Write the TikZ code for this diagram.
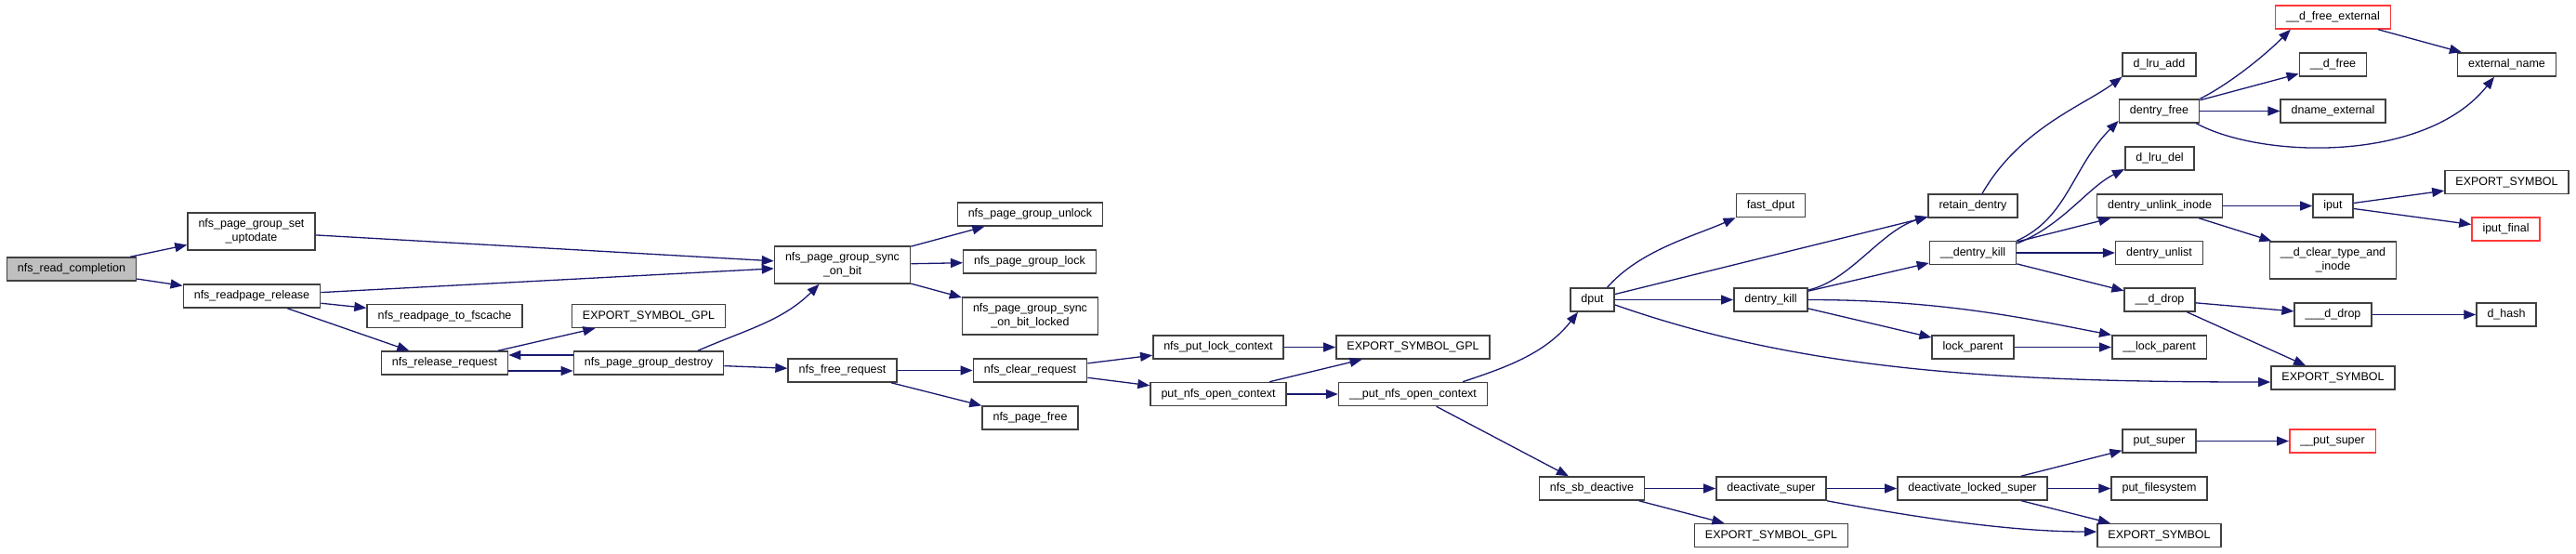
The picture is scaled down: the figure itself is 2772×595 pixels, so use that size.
\documentclass[tikz,border=0pt]{standalone}
\usepackage{fontspec}
\setmainfont{Liberation Sans}
\usepackage{tikz}
\usetikzlibrary{arrows.meta}
\definecolor{edgeblue}{RGB}{25,25,112}
\definecolor{rootgray}{RGB}{191,191,191}
\definecolor{boxline}{RGB}{64,64,64}
\definecolor{extred}{RGB}{255,56,56}

\begin{document}
\begin{tikzpicture}[
    x=1pt, y=-1pt,
    fn/.style={draw=boxline, line width=1.5pt, fill=white, inner xsep=11.5pt, inner ysep=2pt,
        minimum height=25pt, align=center, font=\fontsize{12.5}{15}\selectfont},
    fntwo/.style={fn, minimum height=40pt},
    root/.style={fill=rootgray},
    ext/.style={draw=extred},
    call/.style={edgeblue, line width=1.3pt},
    >={Triangle[length=13pt,width=10pt]}
]
\useasboundingbox (0,0) rectangle (2772,595);

% nfs side
\node[fn, root] (rdcompl) at (77,289.5) {nfs\_read\_completion};
\node[fntwo] (setupd) at (270.5,249) {nfs\_page\_group\_set\\\_uptodate};
\node[fn] (rprel) at (271,318.5) {nfs\_readpage\_release};
\node[fn] (tofsc) at (478.5,340) {nfs\_readpage\_to\_fscache};
\node[fn] (relreq) at (478.5,390.5) {nfs\_release\_request};
\node[fn] (expgpla) at (698,340) {EXPORT\_SYMBOL\_GPL};
\node[fn] (pgdestroy) at (698,390.5) {nfs\_page\_group\_destroy};
\node[fntwo] (syncbit) at (906.5,285) {nfs\_page\_group\_sync\\\_on\_bit};
\node[fn] (freereq) at (906.5,398.5) {nfs\_free\_request};
\node[fn] (pgunlock) at (1108.5,230.5) {nfs\_page\_group\_unlock};
\node[fn] (pglock) at (1108,281.5) {nfs\_page\_group\_lock};
\node[fntwo] (syncbitl) at (1108.5,340) {nfs\_page\_group\_sync\\\_on\_bit\_locked};
\node[fn] (clearreq) at (1108.5,398.5) {nfs\_clear\_request};
\node[fn] (pgfree) at (1108.5,449.5) {nfs\_page\_free};
\node[fn] (putlock) at (1311,373.5) {nfs\_put\_lock\_context};
\node[fn] (putctx) at (1311,424) {put\_nfs\_open\_context};
\node[fn] (expgplb) at (1520.5,373.5) {EXPORT\_SYMBOL\_GPL};
\node[fn] (uputctx) at (1520.5,424) {\_\_put\_nfs\_open\_context};

% dcache side
\node[fn] (dput) at (1713.5,322.5) {dput};
\node[fn] (fastdput) at (1905.5,221) {fast\_dput};
\node[fn] (dkill) at (1905.5,322.5) {dentry\_kill};
\node[fn] (retain) at (2123,221.5) {retain\_dentry};
\node[fn] (udkill) at (2123,272) {\_\_dentry\_kill};
\node[fn] (lockpar) at (2123,373.5) {lock\_parent};
\node[fn] (lrudd) at (2323.5,69.5) {d\_lru\_add};
\node[fn] (dfree) at (2323.5,119.5) {dentry\_free};
\node[fn] (lrudel) at (2324,170.5) {d\_lru\_del};
\node[fn] (unlink) at (2324,221.5) {dentry\_unlink\_inode};
\node[fn] (unlist) at (2323.5,272) {dentry\_unlist};
\node[fn] (ddrop) at (2324,322.5) {\_\_d\_drop};
\node[fn] (ulockpar) at (2323.5,373.5) {\_\_lock\_parent};
\node[fn, ext] (dfreeext) at (2510.5,18.5) {\_\_d\_free\_external};
\node[fn] (udfree) at (2510.5,69.5) {\_\_d\_free};
\node[fn] (dnameext) at (2510.5,119.5) {dname\_external};
\node[fn] (iput) at (2510.5,221.5) {iput};
\node[fntwo] (dclear) at (2510.5,280) {\_\_d\_clear\_type\_and\\\_inode};
\node[fn] (uddrop) at (2510.5,338.5) {\_\_\_d\_drop};
\node[fn] (expsyma) at (2510.5,406.5) {EXPORT\_SYMBOL};
\node[fn] (extname) at (2697.5,69.5) {external\_name};
\node[fn] (expsymc) at (2697.5,196) {EXPORT\_SYMBOL};
\node[fn, ext] (iputfinal) at (2696.5,246.5) {iput\_final};
\node[fn] (dhash) at (2697,338.5) {d\_hash};

% super block side
\node[fn] (sbdeact) at (1713,525.5) {nfs\_sb\_deactive};
\node[fn] (deactsup) at (1906,525.5) {deactivate\_super};
\node[fn] (expgplc) at (1906,576) {EXPORT\_SYMBOL\_GPL};
\node[fn] (deactlocked) at (2122.5,525.5) {deactivate\_locked\_super};
\node[fn] (putsuper) at (2323.5,474.5) {put\_super};
\node[fn] (putfs) at (2323.5,525.5) {put\_filesystem};
\node[fn] (expsymb) at (2323.5,576) {EXPORT\_SYMBOL};
\node[fn, ext] (uputsuper) at (2510,474.5) {\_\_put\_super};

% calls
\draw[->, call] (rdcompl) -- (setupd);
\draw[->, call] (rdcompl) -- (rprel);
\draw[->, call] (setupd) -- (syncbit);
\draw[->, call] (rprel) -- (syncbit);
\draw[->, call] (rprel) -- (tofsc);
\draw[->, call] (rprel) -- (relreq);
\draw[->, call] (relreq) -- (expgpla);
\draw[->, call] ([yshift=-8.5]relreq.east) -- ([yshift=-8.5]pgdestroy.west);
\draw[->, call] ([yshift=8.5]pgdestroy.west) -- ([yshift=8.5]relreq.east);
\draw[->, call] ([xshift=53]pgdestroy.north) .. controls +(50,-22) and +(-40,40) .. ([xshift=-25]syncbit.south);
\draw[->, call] (pgdestroy) -- (freereq);
\draw[->, call] (syncbit) -- (pgunlock);
\draw[->, call] (syncbit) -- (pglock);
\draw[->, call] (syncbit) -- (syncbitl);
\draw[->, call] (freereq) -- (clearreq);
\draw[->, call] (freereq) -- (pgfree);
\draw[->, call] (clearreq) -- (putlock);
\draw[->, call] (clearreq) -- (putctx);
\draw[->, call] (putlock) -- (expgplb);
\draw[->, call] (putctx) -- (expgplb);
\draw[->, call] (putctx) -- (uputctx);
\draw[->, call] ([xshift=53.5]uputctx.north) .. controls +(45,-15) and +(-35,45) .. ([xshift=-15.5]dput.south);
\draw[->, call] (uputctx) -- (sbdeact);

\draw[->, call] ([xshift=16]dput.north) .. controls +(35,-40) and +(-45,20) .. (fastdput.south west);
\draw[->, call] (dput) -- (retain);
\draw[->, call] (dput) -- (dkill);
\draw[->, call] ([yshift=-5.5]dput.east) .. controls +(200,70) and +(-300,0) .. ([yshift=-4.5]expsyma.west);
\draw[->, call] ([yshift=10.5]dkill.east) .. controls +(45,-10) and +(-50,15) .. ([yshift=-11.5]retain.west);
\draw[->, call] (dkill) -- (udkill);
\draw[->, call] (dkill.east) .. controls +(150,0) and +(-80,-15) .. (ulockpar.north west);
\draw[->, call] (dkill) -- (lockpar);
\draw[->, call] (lockpar) -- (ulockpar);
\draw[->, call] ([xshift=10]retain.north) .. controls +(40,-70) and +(-40,30) .. (lrudd.south west);
\draw[->, call] ([yshift=13]udkill.east) .. controls +(55,-25) and +(-50,50) .. ([yshift=-10.5]dfree.west);
\draw[->, call] ([yshift=10]udkill.east) .. controls +(50,-20) and +(-40,20) .. ([yshift=-11.5]lrudel.west);
\draw[->, call] (udkill) -- (unlink);
\draw[->, call] (udkill) -- (unlist);
\draw[->, call] (udkill) -- (ddrop);
\draw[->, call] (dfree.north east) .. controls +(30,-15) and +(-30,30) .. ([xshift=17]dfreeext.south west);
\draw[->, call] (dfree) -- (udfree);
\draw[->, call] (dfree) -- (dnameext);
\draw[->, call] ([xshift=-4]dfree.south east) .. controls +(70,38) and +(-74,93) .. ([xshift=-13.5]extname.south);
\draw[->, call] (dfreeext) -- (extname);
\draw[->, call] (unlink) -- (iput);
\draw[->, call] (unlink) -- (dclear);
\draw[->, call] (iput) -- (expsymc);
\draw[->, call] (iput) -- (iputfinal);
\draw[->, call] (ddrop) -- (uddrop);
\draw[->, call] (ddrop) -- (expsyma);
\draw[->, call] (uddrop) -- (dhash);

\draw[->, call] (sbdeact) -- (deactsup);
\draw[->, call] (sbdeact) -- (expgplc);
\draw[->, call] (deactsup) -- (deactlocked);
\draw[->, call] (deactsup.south east) .. controls +(80,15) and +(-100,0) .. ([yshift=4]expsymb.west);
\draw[->, call] (deactlocked) -- (putsuper);
\draw[->, call] (deactlocked) -- (putfs);
\draw[->, call] (deactlocked) -- (expsymb);
\draw[->, call] (putsuper) -- (uputsuper);

\end{tikzpicture}
\end{document}
